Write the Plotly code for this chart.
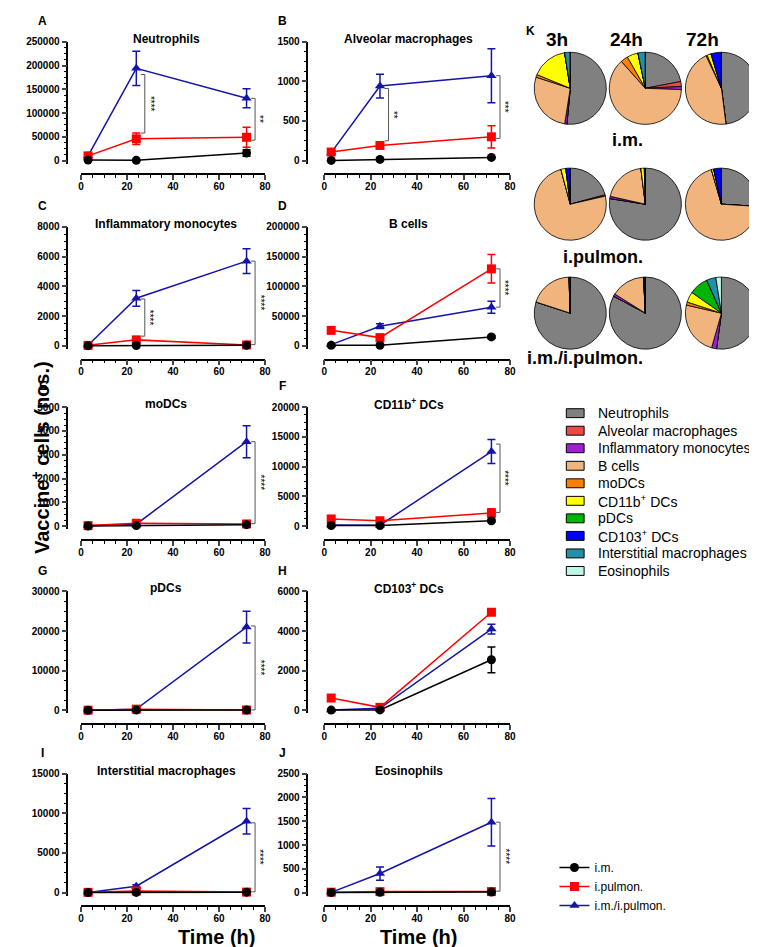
import plotly.graph_objects as go

W, H = 757, 947

# ---- data ----
times = [3, 24, 72]
panel_letters = ["A", "B", "C", "D", "E", "F", "G", "H", "I", "J"]
panel_titles = ["Neutrophils", "Alveolar macrophages", "Inflammatory monocytes", "B cells",
                "moDCs", "CD11b<sup>+</sup> DCs", "pDCs", "CD103<sup>+</sup> DCs",
                "Interstitial macrophages", "Eosinophils"]
y_max = [250000, 1500, 8000, 200000, 5000, 20000, 30000, 6000, 15000, 2500]
y_step = [50000, 500, 2000, 50000, 1000, 5000, 10000, 2000, 5000, 500]

# i.m. (black)
im_mean = [[1000, 500, 16000], [2, 15, 40], [10, 20, 30], [800, 1000, 15000], [5, 20, 60],
           [100, 80, 900], [10, 50, 60], [10, 20, 2550], [10, 20, 50], [2, 5, 10]]
im_err = [[500, 500, 7000], [1, 5, 10], [5, 10, 10], [300, 300, 2500], [3, 10, 20],
          [50, 50, 200], [5, 20, 20], [5, 10, 650], [5, 10, 20], [1, 3, 5]]
# i.pulmon. (red)
pul_mean = [[10000, 45800, 49000], [108, 191, 300], [30, 400, 60], [26000, 13800, 129500], [20, 120, 90],
            [1200, 900, 2200], [40, 300, 80], [620, 150, 4950], [30, 200, 60], [8, 20, 20]]
pul_err = [[3000, 12000, 21000], [15, 20, 140], [10, 80, 30], [4000, 3000, 24000], [10, 40, 40],
           [300, 200, 700], [20, 100, 40], [50, 30, 150], [10, 60, 30], [3, 10, 10]]
# i.m./i.pulmon. (blue)
combo_mean = [[10000, 194000, 131000], [100, 941, 1071], [40, 3200, 5700], [2000, 33000, 65000], [10, 80, 3550],
              [200, 150, 12550], [20, 300, 21000], [10, 100, 4100], [20, 800, 9000], [5, 400, 1480]]
combo_err = [[3000, 36000, 20000], [20, 150, 340], [20, 530, 830], [500, 4000, 10000], [5, 30, 670],
             [100, 80, 2000], [10, 100, 4000], [5, 30, 250], [10, 200, 1600], [3, 140, 500]]

# significance brackets: panel index, time, upper value, lower value, label
sig_panel = [0, 0, 1, 1, 2, 2, 3, 4, 5, 6, 8, 9]
sig_time = [24, 72, 24, 72, 24, 72, 72, 72, 72, 72, 72, 72]
sig_top = [181000, 131000, 910, 1071, 3150, 5700, 129500, 3550, 13800, 21300, 8800, 1480]
sig_bottom = [58000, 43000, 250, 280, 650, 80, 65000, 100, 2300, 100, 100, 30]
sig_label = ["****", "**", "**", "***", "****", "****", "****", "****", "****", "****", "****", "****"]

# pies (percent of vaccine+ cells)
cell_types = ["Neutrophils", "Alveolar macrophages", "Inflammatory monocytes", "B cells", "moDCs",
              "CD11b<sup>+</sup> DCs", "pDCs", "CD103<sup>+</sup> DCs", "Interstitial macrophages", "Eosinophils"]
cell_colors = ["#808080", "#F04848", "#A01FD0", "#F0B47C", "#FF7F00",
               "#FFFF00", "#00B400", "#0000FF", "#2191A8", "#BFF5E6"]
pie_times = ["3h", "24h", "72h"]
pie_routes = ["i.m.", "i.pulmon.", "i.m./i.pulmon."]
pie_im = [[51.5, 0, 1, 27.5, 1.2, 16.3, 0, 0, 2.5, 0],
          [22, 2.2, 1.4, 62.8, 3.3, 5, 0, 0, 3.3, 0],
          [48, 0, 0, 45, 0.5, 1.8, 0, 4.7, 0, 0]]
pie_pul = [[20.8, 0.6, 0, 74.4, 0, 2.2, 0, 2, 0, 0],
           [77.5, 0, 1, 19.5, 0, 1.5, 0.5, 0, 0, 0],
           [26, 0, 0, 69.5, 0, 1, 0, 3.5, 0, 0]]
pie_combo = [[80, 0, 0, 19.4, 0, 0.6, 0, 0, 0, 0],
             [82.8, 0, 1.1, 15.3, 0, 0, 0.3, 0, 0.5, 0],
             [52.2, 0, 2.2, 24.2, 1.4, 4.7, 8.6, 0, 4.2, 2.5]]

group_names = ["i.m.", "i.pulmon.", "i.m./i.pulmon."]
group_colors = ["#000000", "#FF0000", "#1414A8"]
group_symbols = ["circle", "square", "triangle-up"]

FONT = "Arial, Liberation Sans, sans-serif"


def px(x):
    return x / W


def py(y):
    return 1 - y / H


# layout geometry in pixels
row_top = [28, 215, 397, 583, 767]
col_yaxis = [57, 300]
col_x0 = [71, 317]
col_x1 = [257, 505]
plot_h = 120
pad = 0.025

fig = go.Figure()
annotations = []

for i in range(10):
    r, c = i // 2, i % 2
    ax = str(i + 1)
    top = row_top[r]
    zero = top + plot_h
    dom_bottom = top + plot_h * (1 + pad)
    tickfont = dict(size=10, family=FONT, color="black", weight="bold")
    fig.update_layout(**{
        "xaxis" + ax: dict(domain=[px(col_x0[c]), px(col_x1[c])], range=[0, 80], anchor="free",
                           position=py(zero + 14), tickvals=[0, 20, 40, 60, 80], ticks="outside",
                           ticklen=5, tickwidth=1.5, showline=True, linewidth=1.5, linecolor="black",
                           showgrid=False, zeroline=False, tickfont=tickfont, ticklabelstandoff=-2,
                           minor=dict(ticks="outside", ticklen=3, tickwidth=1, dtick=5, tickcolor="black")),
        "yaxis" + ax: dict(domain=[py(dom_bottom), py(top)], range=[-pad * y_max[i], y_max[i]],
                           anchor="free", position=px(col_yaxis[c]), dtick=y_step[i], tick0=0,
                           tickformat="d", ticks="outside", ticklen=5, tickwidth=1.5, showline=True,
                           linewidth=1.5, linecolor="black", showgrid=False, zeroline=False,
                           tickfont=tickfont,
                           minor=dict(ticks="outside", ticklen=3, tickwidth=1, dtick=y_step[i] / 4,
                                      tickcolor="black")),
    })
    xa, ya = "x" + ax, "y" + ax

    # significance brackets
    for k in range(len(sig_panel)):
        if sig_panel[k] != i:
            continue
        t = sig_time[k]
        bx = t + 3.7
        fig.add_trace(go.Scatter(x=[t + 2, bx, bx, t + 2], y=[sig_top[k], sig_top[k], sig_bottom[k], sig_bottom[k]],
                                 mode="lines", line=dict(color="#555555", width=1), xaxis=xa, yaxis=ya,
                                 showlegend=False, hoverinfo="skip", cliponaxis=False))
        annotations.append(dict(x=bx + 2.2, y=(sig_top[k] + sig_bottom[k]) / 2, xref=xa, yref=ya,
                                text=sig_label[k], textangle=90, showarrow=False,
                                font=dict(size=10, family=FONT, color="black")))

    series = [(combo_mean, combo_err, 2), (pul_mean, pul_err, 1), (im_mean, im_err, 0)]
    for means, errs, g in series:
        fig.add_trace(go.Scatter(
            x=times, y=means[i], xaxis=xa, yaxis=ya, mode="lines+markers",
            name=group_names[g], legendrank=g, showlegend=(i == 0),
            line=dict(color=group_colors[g], width=1.5),
            marker=dict(symbol=group_symbols[g], size=9, color=group_colors[g]),
            error_y=dict(type="data", array=errs[i], color=group_colors[g], thickness=1.5, width=4),
            cliponaxis=False))

    # panel letter and title
    annotations.append(dict(x=px(col_yaxis[c] - 25), y=py(top - 21), xref="paper", yref="paper",
                            text="<b>%s</b>" % panel_letters[i], showarrow=False,
                            xanchor="center", yanchor="middle",
                            font=dict(size=12, family=FONT, color="black")))
    annotations.append(dict(x=px((col_yaxis[c] + col_x1[c]) / 2), y=py(top - 3), xref="paper", yref="paper",
                            text="<b>%s</b>" % panel_titles[i], showarrow=False,
                            xanchor="center", yanchor="middle",
                            font=dict(size=12, family=FONT, color="black")))

# pies
pie_cx = [566, 642, 719]
pie_cy = [75, 192, 302]
pie_r = 36.5
for r, route_vals in enumerate([pie_im, pie_pul, pie_combo]):
    for c, vals in enumerate(route_vals):
        fig.add_trace(go.Pie(values=vals, labels=cell_types, sort=False, direction="clockwise", rotation=0,
                             marker=dict(colors=cell_colors, line=dict(color="black", width=0.8)),
                             textinfo="none", hoverinfo="label+percent", showlegend=False,
                             domain=dict(x=[px(pie_cx[c] - pie_r), px(pie_cx[c] + pie_r)],
                                         y=[py(pie_cy[r] + pie_r), py(pie_cy[r] - pie_r)])))
for c, label in enumerate(pie_times):
    annotations.append(dict(x=px(pie_cx[c]), y=py(26), xref="paper", yref="paper", text="<b>%s</b>" % label,
                            showarrow=False, yanchor="middle", font=dict(size=19, family=FONT, color="black")))
route_y = [127, 245, 347]
for r, label in enumerate(pie_routes):
    annotations.append(dict(x=px(pie_cx[1]), y=py(route_y[r]), xref="paper", yref="paper",
                            text="<b>%s</b>" % label, showarrow=False, yanchor="middle",
                            font=dict(size=18, family=FONT, color="black")))
annotations.append(dict(x=px(532), y=py(8), xref="paper", yref="paper", text="<b>K</b>", showarrow=False,
                        font=dict(size=12, family=FONT, color="black")))

# cell type legend (swatches)
shapes = []
for k, name in enumerate(cell_types):
    yc = 403 + 17.7 * k
    shapes.append(dict(type="rect", xref="paper", yref="paper", x0=px(562), x1=px(580),
                       y0=py(yc + 4.5), y1=py(yc - 4.5), fillcolor=cell_colors[k],
                       line=dict(color="black", width=1)))
    annotations.append(dict(x=px(592), y=py(yc), xref="paper", yref="paper", text=name, showarrow=False,
                            xanchor="left", yanchor="middle", font=dict(size=14, family=FONT, color="black")))

# axis titles
annotations.append(dict(x=px(15), y=py(448), xref="paper", yref="paper",
                        text="<b>Vaccine<sup>+</sup> cells (nos.)</b>", textangle=-90, showarrow=False,
                        font=dict(size=20, family=FONT, color="black")))
for c in range(2):
    annotations.append(dict(x=px((col_yaxis[c] + col_x1[c]) / 2 + 10), y=py(932), xref="paper", yref="paper",
                            text="<b>Time (h)</b>", showarrow=False, yanchor="middle",
                            font=dict(size=20, family=FONT, color="black")))

fig.update_layout(
    width=W, height=H, margin=dict(l=0, r=0, t=0, b=0),
    paper_bgcolor="white", plot_bgcolor="white",
    annotations=annotations, shapes=shapes,
    legend=dict(x=px(550), y=py(847), xanchor="left", yanchor="top",
                font=dict(size=12, family=FONT, color="black"),
                bgcolor="rgba(0,0,0,0)", itemwidth=30, traceorder="normal"),
    font=dict(family=FONT),
)

fig.write_html("out.html")
